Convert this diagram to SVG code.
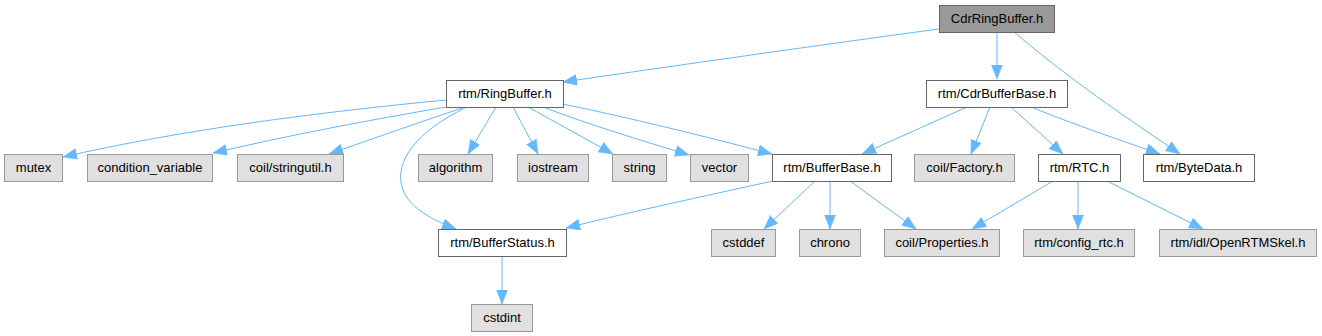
<svg xmlns="http://www.w3.org/2000/svg" width="1322" height="336" viewBox="0 0 1322 336">
<style>
.n rect{fill:#ffffff;stroke:#666666;stroke-width:1}
.g rect{fill:#e0e0e0;stroke:#999999;stroke-width:1}
.top rect{fill:#999999;stroke:#666666;stroke-width:1}
text{font-family:"Liberation Sans",Arial,sans-serif;font-size:13px;fill:#000000;text-anchor:middle}
.e path{fill:none;stroke:#63b8ff;stroke-width:1;marker-end:url(#ah)}
</style>
<defs>
<marker id="ah" markerUnits="userSpaceOnUse" markerWidth="15" markerHeight="12" refX="14" refY="5.5" orient="auto" viewBox="0 0 15 12">
<path d="M0,0 L14,5.5 L0,11 z" fill="#63b8ff" stroke="#63b8ff" stroke-width="0.5"/>
</marker>
</defs>
<rect width="1322" height="336" fill="#ffffff"/>
<g class="e" id="edges">
<path d="M939,29 C820,45 680,65 563,82"/>
<path d="M997,32 L997,79"/>
<path d="M1014,32 C1070,80 1130,120 1180,154"/>
<path d="M446,100 C320,112 180,130 63,157"/>
<path d="M446,107 C370,120 290,135 213,153"/>
<path d="M465,107 C420,122 375,138 329,154"/>
<path d="M465,108 C420,130 392,160 403,190 C410,208 432,220 456,229"/>
<path d="M496,107 L468,154"/>
<path d="M513,107 L538,154"/>
<path d="M528,107 L613,154"/>
<path d="M543,107 C590,125 640,140 689,155"/>
<path d="M563,104 C630,118 700,135 772,154"/>
<path d="M967,107 L862,154"/>
<path d="M990,107 L971,154"/>
<path d="M1011,107 L1063,154"/>
<path d="M1031,107 C1075,125 1120,140 1160,154"/>
<path d="M773,181 C700,197 630,212 566,228"/>
<path d="M815,181 L764,229"/>
<path d="M830,181 L830,229"/>
<path d="M850,181 L916,229"/>
<path d="M1053,181 L972,229"/>
<path d="M1078,181 L1078,229"/>
<path d="M1107,181 L1203,229"/>
<path d="M502,256 L502,304"/>
</g>
<g class="top" id="CdrRingBuffer"><rect x="939.5" y="5.5" width="115" height="27"/><text x="997" y="23">CdrRingBuffer.h</text></g>
<g class="n" id="RingBuffer"><rect x="446.5" y="80.5" width="117" height="27"/><text x="505" y="98">rtm/RingBuffer.h</text></g>
<g class="n" id="CdrBufferBase"><rect x="926.5" y="80.5" width="141" height="27"/><text x="997" y="98">rtm/CdrBufferBase.h</text></g>
<g class="g" id="mutex"><rect x="4.5" y="154.5" width="58" height="27"/><text x="33.5" y="172">mutex</text></g>
<g class="g" id="condition_variable"><rect x="87.5" y="154.5" width="125" height="27"/><text x="150" y="172">condition_variable</text></g>
<g class="g" id="stringutil"><rect x="237.5" y="154.5" width="106" height="27"/><text x="290.5" y="172">coil/stringutil.h</text></g>
<g class="g" id="algorithm"><rect x="418.5" y="154.5" width="74" height="27"/><text x="455.5" y="172">algorithm</text></g>
<g class="g" id="iostream"><rect x="517.5" y="154.5" width="71" height="27"/><text x="553" y="172">iostream</text></g>
<g class="g" id="string"><rect x="612.5" y="154.5" width="54" height="27"/><text x="639.5" y="172">string</text></g>
<g class="g" id="vector"><rect x="690.5" y="154.5" width="58" height="27"/><text x="719.5" y="172">vector</text></g>
<g class="n" id="BufferBase"><rect x="772.5" y="154.5" width="119" height="27"/><text x="832" y="172">rtm/BufferBase.h</text></g>
<g class="g" id="Factory"><rect x="914.5" y="154.5" width="100" height="27"/><text x="964.5" y="172">coil/Factory.h</text></g>
<g class="n" id="RTC"><rect x="1038.5" y="154.5" width="82" height="27"/><text x="1079.5" y="172">rtm/RTC.h</text></g>
<g class="n" id="ByteData"><rect x="1143.5" y="154.5" width="111" height="27"/><text x="1199" y="172">rtm/ByteData.h</text></g>
<g class="n" id="BufferStatus"><rect x="438.5" y="229.5" width="128" height="27"/><text x="502.5" y="247">rtm/BufferStatus.h</text></g>
<g class="g" id="cstddef"><rect x="711.5" y="229.5" width="64" height="27"/><text x="743.5" y="247">cstddef</text></g>
<g class="g" id="chrono"><rect x="799.5" y="229.5" width="61" height="27"/><text x="830" y="247">chrono</text></g>
<g class="g" id="Properties"><rect x="884.5" y="229.5" width="115" height="27"/><text x="942" y="247">coil/Properties.h</text></g>
<g class="g" id="config_rtc"><rect x="1023.5" y="229.5" width="111" height="27"/><text x="1079" y="247">rtm/config_rtc.h</text></g>
<g class="g" id="OpenRTMSkel"><rect x="1159.5" y="229.5" width="157" height="27"/><text x="1238" y="247">rtm/idl/OpenRTMSkel.h</text></g>
<g class="g" id="cstdint"><rect x="471.5" y="304.5" width="61" height="27"/><text x="502" y="322">cstdint</text></g>
</svg>
